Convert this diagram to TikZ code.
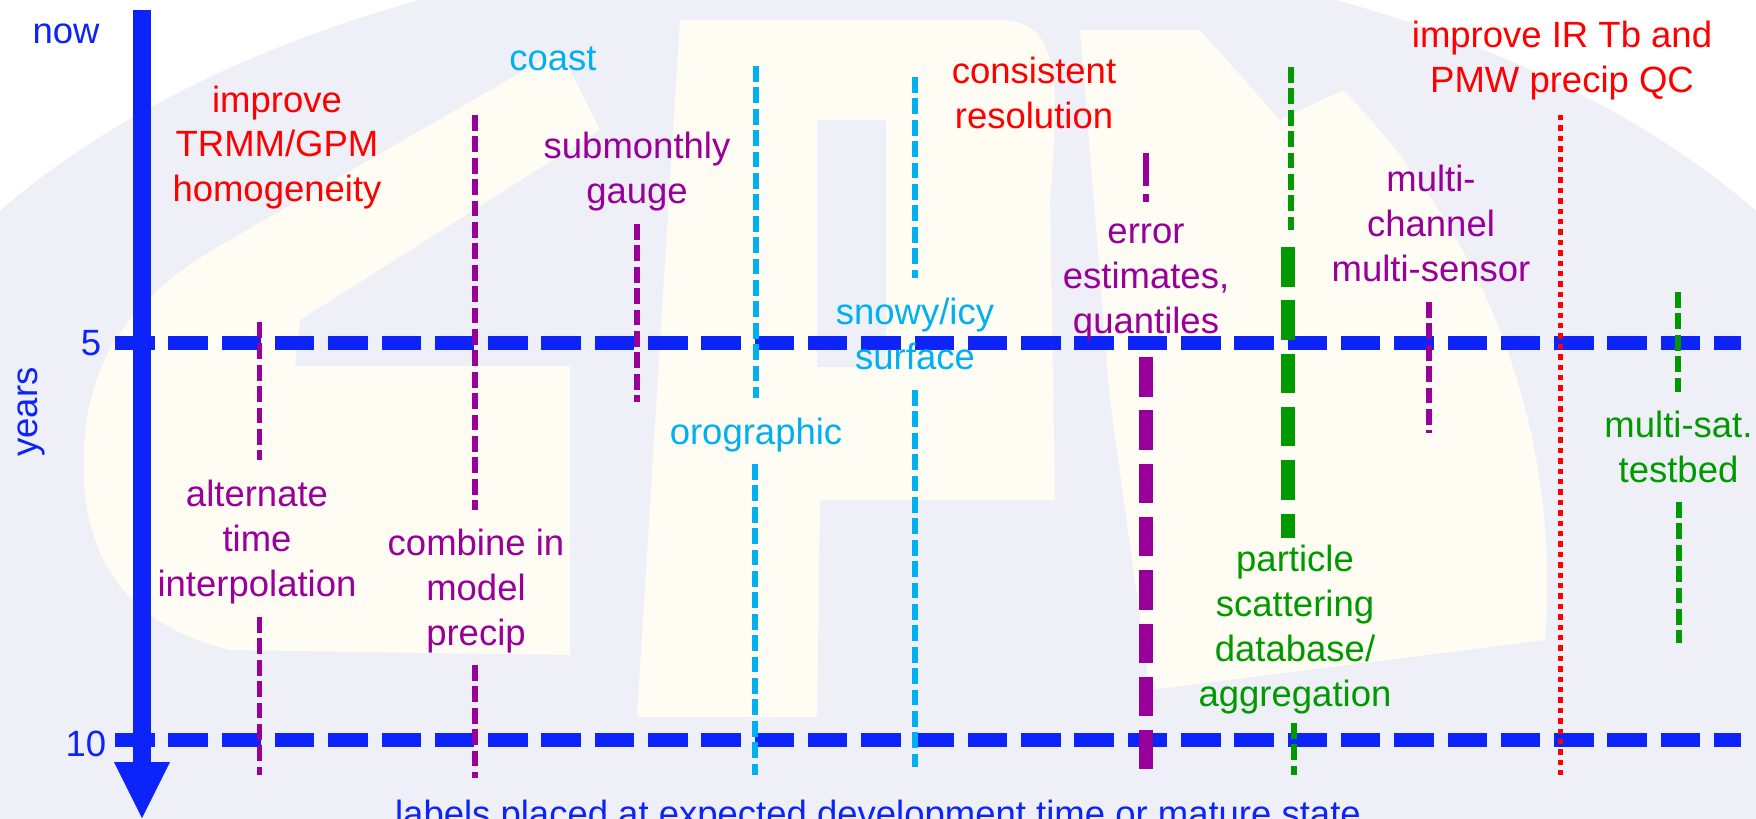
\documentclass[tikz,border=0pt]{standalone}
\usepackage{fontspec}
\setmainfont{Liberation Sans}
\definecolor{axblue}{RGB}{12,35,250}
\definecolor{cred}{RGB}{255,0,0}
\definecolor{cpurple}{RGB}{153,0,153}
\definecolor{ccyan}{RGB}{0,176,240}
\definecolor{cgreen}{RGB}{0,153,0}
\definecolor{clav}{RGB}{238,239,247}
\definecolor{ccream}{RGB}{255,253,243}
\tikzset{
  lbl/.style={font=\fontsize{18.25pt}{22.4pt}\selectfont, align=center, anchor=base, inner sep=0pt},
  yearline/.style={draw=axblue, line width=6.65pt, dash pattern=on 19.75pt off 6.9pt},
  thinline/.style={line width=2.8pt, dash pattern=on 7.85pt off 2.85pt},
  thickline/.style={line width=6.7pt, dash pattern=on 19.75pt off 6.9pt},
  stubline/.style={line width=3.3pt, dash pattern=on 16.5pt off 4pt},
  dotline/.style={line width=2.8pt, dash pattern=on 2.7pt off 2.5pt},
  axisline/.style={draw=axblue, line width=9pt}
}
\begin{document}
\begin{tikzpicture}[x=0.5pt,y=-0.5pt]
\useasboundingbox (0,0) rectangle (1756,819);
\clip (0,0) rectangle (1756,819);
% background watermark (approximate)
\fill[white] (0,0) rectangle (1756,819);
\fill[clav] (878,540) ellipse [x radius=1050, y radius=600];
% G
\fill[ccream] (560,50) -- (600,130) -- (300,320) -- (295,366) -- (570,366) -- (570,655) -- (230,650)
  .. controls (110,620) and (80,540) .. (84,450) .. controls (88,350) and (140,290) .. (230,240) -- cycle;
% P
\fill[ccream, even odd rule] (680,20) -- (1000,20) .. controls (1060,20) and (1060,80) .. (1050,200)
  -- (1055,500) -- (820,500) -- (817,717) -- (637,717) -- cycle
  (817,120) rectangle (886,367);
% M
\fill[ccream] (1080,30) -- (1200,30) -- (1280,120) -- (1343,90) .. controls (1500,250) and (1560,450) .. (1545,640)
  -- (1150,690) -- (1110,400) -- cycle;
% year lines
\coordinate (y5a) at (115,343);  \coordinate (y5b) at (1741,343);
\coordinate (y10a) at (115,740); \coordinate (y10b) at (1741,740);
\draw[yearline] (y5a) -- (y5b);
\draw[yearline] (y10a) -- (y10b);
% purple thin lines
\draw[thinline, cpurple] (259.5,322) -- (259.5,460);
\draw[thinline, cpurple] (259.5,617) -- (259.5,775);
\draw[thinline, cpurple] (475,115) -- (475,510);
\draw[thinline, cpurple] (475,665) -- (475,778);
\draw[thinline, cpurple] (637,224) -- (637,402);
\draw[thinline, cpurple] (1429,302) -- (1429,433);
\draw[stubline, cpurple] (1146,153) -- (1146,202);
\draw[thickline, cpurple] (1146,357) -- (1146,769);
% cyan lines
\draw[thinline, ccyan] (756,66) -- (756,398);
\draw[thinline, ccyan] (755,464) -- (755,775);
\draw[thinline, ccyan] (915,77) -- (915,278);
\draw[thinline, ccyan] (915,390) -- (915,767);
% green lines
\draw[thinline, cgreen] (1291,67) -- (1291,230);
\draw[thickline, cgreen] (1288,247) -- (1288,538);
\draw[thinline, cgreen] (1294,723) -- (1294,775);
\draw[thinline, cgreen] (1678,292) -- (1678,392);
\draw[thinline, cgreen] (1679,502) -- (1679,643);
% red dotted
\draw[dotline, cred] (1560.5,115) -- (1560.5,775);
% time axis
\coordinate (axtop) at (142,10);
\coordinate (axbot) at (142,764);
\draw[axisline] (axtop) -- (axbot);
\fill[axblue] (114,762) -- (170,762) -- (142,818) -- cycle;
% axis labels
\node[lbl, text=axblue] (now) at (66,43) {now};
\node[lbl, text=axblue] (five) at (91,355) {5};
\node[lbl, text=axblue] (ten) at (86,756) {10};
\node[lbl, text=axblue, rotate=90] (years) at (37,412) {years};
\node[lbl, text=axblue] (note) at (878,826) {labels placed at expected development time or mature state};
% item labels (anchor = baseline of the last line)
\node[lbl, text=cred] (trmm) at (277,201.7) {improve\\TRMM/GPM\\homogeneity};
\node[lbl, text=ccyan] (coast) at (553,70) {coast};
\node[lbl, text=cpurple] (subm) at (637,203) {submonthly\\gauge};
\node[lbl, text=cred] (consist) at (1034,128) {consistent\\resolution};
\node[lbl, text=cpurple] (err) at (1146,333) {error\\estimates,\\quantiles};
\node[lbl, text=ccyan] (snow) at (915,369) {snowy/icy\\surface};
\node[lbl, text=ccyan] (oro) at (756,444) {orographic};
\node[lbl, text=cpurple] (alt) at (257,596) {alternate\\time\\interpolation};
\node[lbl, text=cpurple] (comb) at (476,645) {combine in\\model\\precip};
\node[lbl, text=cpurple] (multi) at (1431,281) {multi-\\channel\\multi-sensor};
\node[lbl, text=cred] (irtb) at (1562,92) {improve IR Tb and\\PMW precip QC};
\node[lbl, text=cgreen] (part) at (1295,706) {particle\\scattering\\database/\\aggregation};
\node[lbl, text=cgreen] (msat) at (1678.5,482) {multi-sat.\\testbed};
\end{tikzpicture}
\end{document}
